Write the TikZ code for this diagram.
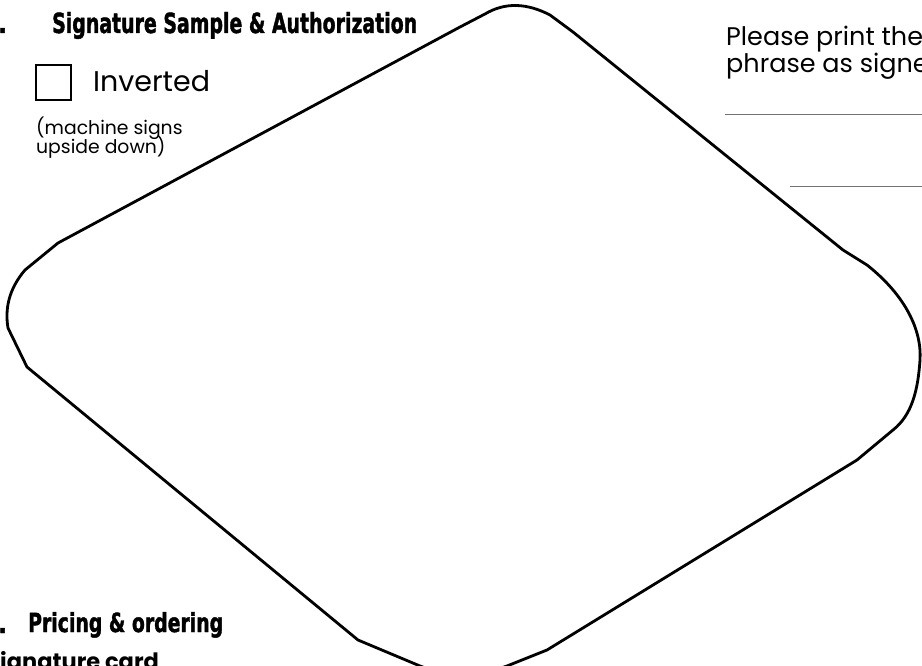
\documentclass[tikz,border=0pt]{standalone}
\usepackage{fontspec}
\usepackage{graphicx}
\setmainfont{Poppins}
\newfontfamily\headfont[FakeBold=1.6]{DejaVu Sans Condensed}
\tikzset{heading/.style={inner sep=0pt, anchor=base west, font=\headfont\bfseries},
    plain/.style={inner sep=0pt, anchor=base west},
    outline/.style={draw, line width=2.8pt, line join=round},
    rule/.style={draw=black!55, line width=0.9pt},
    tickbox/.style={draw, line width=1.8pt, minimum size=35pt, inner sep=0pt}}

\begin{document}
\begin{tikzpicture}[x=1pt,y=-1pt]
	\useasboundingbox (0,0) rectangle (922,666);
	\clip (0,0) rectangle (922,666);
	% signing area
	\draw[outline] (27,367) -- (8,328) .. controls (5,310) and (8,290) .. (25,270)
		-- (58,243) -- (460,27) -- (485,14) .. controls (505,2) and (527,3) .. (550,15)
		-- (573,32) -- (843,250) -- (867,265) .. controls (905,295) and (922,330) .. (920,360)
		.. controls (918,390) and (912,415) .. (893,430) -- (857,460) -- (547,650)
		-- (507,666) .. controls (480,676) and (445,676) .. (420,666) -- (358,640) -- cycle;
	% left column
	\node[heading, font=\headfont\bfseries\fontsize{26}{26}\selectfont] (dotA) at (-2,33) {.};
	\node[heading] (headA) at (52,33) {\resizebox{365pt}{21pt}{Signature Sample \& Authorization}};
	\node[tickbox] (box) at (53.5,82.5) {};
	\node[plain, font=\fontsize{28.5}{30}\selectfont] (inv) at (93,92) {Inverted};
	\node[plain, font=\fontsize{18.8}{19}\selectfont] (noteA) at (36,135) {(machine signs};
	\node[plain, font=\fontsize{18.8}{19}\selectfont] (noteB) at (36,154) {upside down)};
	% right column
	\node[plain, font=\fontsize{25.5}{27}\selectfont] (askA) at (726,46) {Please print the};
	\node[plain, font=\fontsize{25.5}{27}\selectfont] (askB) at (726,73) {phrase as signe};
	\coordinate (ruleA) at (725,114);
	\coordinate (ruleB) at (790,186);
	\draw[rule] (ruleA) -- (ruleA -| 922,0);
	\draw[rule] (ruleB) -- (ruleB -| 922,0);
	% bottom
	\node[heading, font=\headfont\bfseries\fontsize{26}{26}\selectfont] (dotB) at (-2,633) {.};
	\node[heading] (headB) at (28,632) {\resizebox{195pt}{20pt}{Pricing \& ordering}};
	\node[plain, font=\bfseries\fontsize{22.5}{23}\selectfont] (card) at (0,669) {ignature card};
\end{tikzpicture}
\end{document}
